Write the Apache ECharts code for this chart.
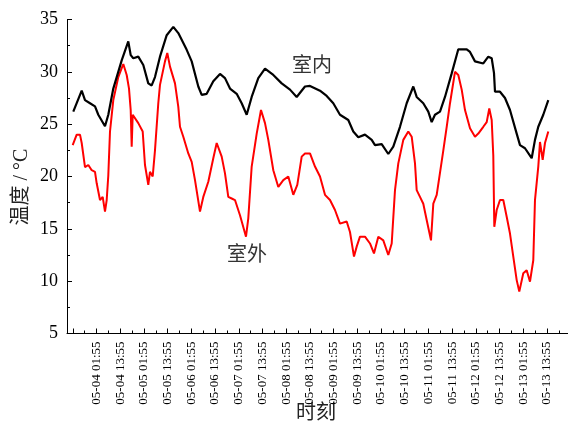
<!DOCTYPE html>
<html><head><meta charset="utf-8">
<script src="https://cdn.jsdelivr.net/npm/echarts@6/dist/echarts.min.js"></script>
<style>html,body{margin:0;padding:0;background:#fff}#c{width:568px;height:425px}</style>
</head><body><div id="c"></div>
<script>
// time in hours since 05-04 00:00
const indoorHours = [-9.83,-5.57,-3.90,-1.37,1.16,2.83,6.22,7.89,10.42,14.67,18.01,19.23,20.54,23.07,25.60,28.13,29.85,31.52,34.05,37.45,40.79,43.32,47.57,50.10,53.44,55.16,57.69,61.03,64.42,66.95,69.48,72.87,75.40,77.93,80.46,83.80,87.20,91.40,95.65,99.85,103.24,107.44,109.97,115.03,118.42,121.76,125.15,129.35,131.88,134.41,137.80,141.20,142.87,146.26,149.60,152.13,155.52,158.91,162.25,163.97,167.31,169.84,171.56,173.23,175.76,178.29,181.69,185.03,189.28,190.95,193.48,197.68,200.21,201.93,203.09,203.60,206.13,208.66,211.19,214.58,216.25,218.78,222.17,223.84,225.51,228.04,230.58];
const indoorTemp  = [26.2,28.2,27.3,27.0,26.7,25.9,24.8,25.9,28.4,31.1,32.9,31.6,31.3,31.45,30.65,28.9,28.7,29.5,31.45,33.5,34.3,33.7,32.1,31.0,28.6,27.8,27.9,29.1,29.8,29.4,28.4,27.9,27.0,25.9,27.6,29.4,30.3,29.7,28.9,28.3,27.6,28.6,28.65,28.2,27.7,27.0,25.9,25.4,24.3,23.75,24.0,23.5,23.0,23.1,22.15,22.85,24.75,27.0,28.6,27.6,27.0,26.2,25.2,25.9,26.2,27.6,29.85,32.15,32.15,31.9,31.0,30.8,31.45,31.3,29.9,28.1,28.1,27.5,26.35,24.1,23.0,22.7,21.75,23.5,24.75,25.9,27.3];

const outdoorHours = [-10.13,-8.10,-6.43,-5.57,-3.90,-2.23,-0.51,1.16,2.02,3.69,5.05,6.22,7.08,7.89,8.75,10.42,12.95,14.67,15.48,17.20,18.37,19.23,19.73,20.24,23.07,25.30,26.46,28.13,28.99,30.36,31.52,33.19,34.05,36.58,37.75,39.12,41.65,43.32,44.18,45.85,48.38,50.10,51.77,54.30,55.97,58.50,61.03,62.75,65.28,66.95,68.62,70.34,72.01,74.54,77.58,78.74,80.46,83.00,85.17,87.20,88.87,91.40,93.93,96.46,98.99,101.52,103.54,105.77,107.44,109.97,112.50,115.03,117.56,120.09,122.62,125.15,128.54,130.21,132.24,133.60,135.27,137.80,140.34,142.36,144.54,147.07,149.60,151.32,152.99,154.66,157.19,159.72,161.44,163.11,163.97,165.64,167.31,169.03,171.21,172.38,174.10,177.45,179.16,180.83,183.36,185.03,186.75,188.42,190.95,193.48,195.15,197.68,199.40,200.71,201.93,202.74,203.25,204.46,206.13,207.80,209.52,211.19,212.86,214.58,215.90,217.92,219.64,221.31,222.98,223.84,225.51,226.37,227.73,228.90,230.58];
const outdoorTemp  = [23.0,24.0,24.0,23.2,20.9,21.1,20.6,20.45,19.35,17.75,18.05,16.65,17.75,20.1,24.3,27.3,29.5,30.35,30.75,29.7,28.4,26.35,22.85,25.9,25.1,24.3,21.1,19.2,20.45,20.0,22.5,27.0,28.75,31.0,31.8,30.5,28.9,26.65,24.75,23.8,22.2,21.4,19.65,16.65,18.05,19.5,21.75,23.2,21.9,20.3,18.05,17.9,17.75,16.3,14.25,16.0,20.95,24.1,26.35,25.1,23.5,20.6,19.0,19.65,20.0,18.25,19.2,21.9,22.2,22.2,20.95,20.0,18.25,17.75,16.8,15.5,15.7,14.7,12.35,13.3,14.25,14.25,13.6,12.65,14.25,13.9,12.5,13.6,18.7,21.25,23.5,24.3,23.8,21.25,18.7,18.05,17.4,15.85,13.9,17.4,18.25,22.5,24.75,27.0,30.0,29.7,28.3,26.35,24.6,23.8,24.1,24.75,25.2,26.5,25.4,22.0,15.2,16.8,17.75,17.75,16.15,14.55,12.35,10.1,9.0,10.75,11.05,9.95,12.0,17.75,20.95,23.3,21.6,23.2,24.3];

const tickLabels = ['05-04 01:55','05-04 13:55','05-05 01:55','05-05 13:55','05-06 01:55','05-06 13:55','05-07 01:55','05-07 13:55','05-08 01:55','05-08 13:55','05-09 01:55','05-09 13:55','05-10 01:55','05-10 13:55','05-11 01:55','05-11 13:55','05-12 01:55','05-12 13:55','05-13 01:55','05-13 13:55'];
const firstLabelHour = 1 + 55/60;
const xMin = -13.01, xMax = 240.55;

const labelVals = tickLabels.map((t, i) => firstLabelHour + 12 * i);
const majorVals = [firstLabelHour - 12].concat(labelVals);
const minorVals = [];
for (let v = firstLabelHour - 6; v < xMax; v += 12) minorVals.push(v);

const serif = '"Liberation Serif","Times New Roman",serif';
const cjk = '"Liberation Serif","Noto Sans CJK SC",sans-serif';

const chart = echarts.init(document.getElementById('c'), null, {renderer: 'canvas'});
chart.setOption({
  animation: false,
  backgroundColor: '#fff',
  grid: {left: 67, right: 0, top: 19.5, bottom: 91.5},
  xAxis: [{
    type: 'value', min: xMin, max: xMax,
    axisLine: {show: true, onZero: false, lineStyle: {color: '#000', width: 1}},
    axisTick: {show: true, inside: true, length: 5, customValues: majorVals, lineStyle: {color: '#000'}},
    axisLabel: {
      customValues: labelVals, rotate: 90, margin: 8,
      fontFamily: serif, fontSize: 13, color: '#000',
      formatter: v => tickLabels[Math.round((v - firstLabelHour) / 12)] || ''
    },
    splitLine: {show: false}
  }, {
    type: 'value', min: xMin, max: xMax, position: 'bottom',
    axisLine: {show: false, onZero: false},
    axisTick: {show: true, inside: true, length: 3, customValues: minorVals, lineStyle: {color: '#000'}},
    axisLabel: {show: false},
    splitLine: {show: false}
  }],
  yAxis: {
    type: 'value', min: 5, max: 35, interval: 5,
    axisLine: {show: true, onZero: false, lineStyle: {color: '#000', width: 1}},
    axisTick: {show: true, inside: true, length: 5, lineStyle: {color: '#000'}},
    minorTick: {show: true, splitNumber: 2, length: 3, lineStyle: {color: '#000'}},
    axisLabel: {fontFamily: serif, fontSize: 18, color: '#000', margin: 9},
    splitLine: {show: false}
  },
  series: [{
    name: '室外', type: 'line', showSymbol: false, xAxisIndex: 0,
    data: outdoorHours.map((h, i) => [h, outdoorTemp[i]]),
    lineStyle: {color: '#ff0000', width: 2}
  }, {
    name: '室内', type: 'line', showSymbol: false, xAxisIndex: 0,
    data: indoorHours.map((h, i) => [h, indoorTemp[i]]),
    lineStyle: {color: '#000', width: 2.2}
  }],
  graphic: [
    {type: 'text', x: 22, y: 187, rotation: Math.PI / 2,
     style: {text: '温度 / °C', font: '20px ' + cjk, align: 'center', verticalAlign: 'middle', fill: '#222'}},
    {type: 'text', x: 316, y: 411,
     style: {text: '时刻', font: '20px "Noto Sans CJK SC",sans-serif', align: 'center', verticalAlign: 'middle', fill: '#222'}},
    {type: 'text', x: 312, y: 64,
     style: {text: '室内', font: '20px "Noto Sans CJK SC",sans-serif', align: 'center', verticalAlign: 'middle', fill: '#333'}},
    {type: 'text', x: 247, y: 253,
     style: {text: '室外', font: '20px "Noto Sans CJK SC",sans-serif', align: 'center', verticalAlign: 'middle', fill: '#333'}}
  ]
});
</script></body></html>
